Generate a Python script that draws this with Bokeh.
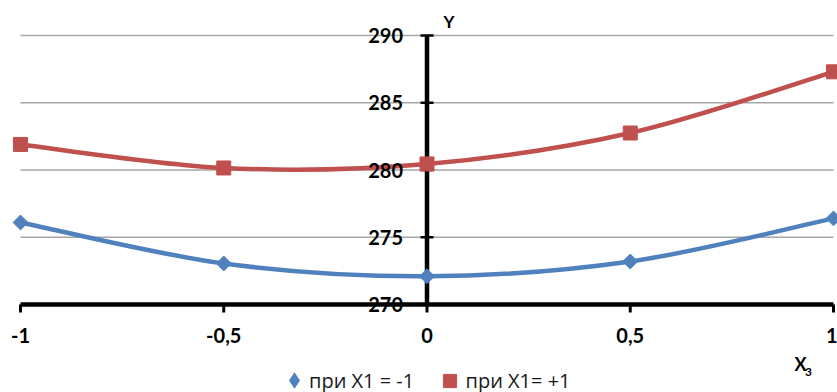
import numpy as np
from bokeh.plotting import figure
from bokeh.models import Range1d, ColumnDataSource, Legend, LegendItem
from bokeh.core.properties import value
from bokeh.embed import file_html
from bokeh.resources import INLINE

# ---- data ----
x3 = [-1, -0.5, 0, 0.5, 1]
y_x1_minus = [276.1, 273.05, 272.1, 273.2, 276.4]
y_x1_plus = [281.9, 280.15, 280.45, 282.75, 287.3]
series_names = ["при X1 = -1", "при X1= +1"]
x_ticks = [-1, -0.5, 0, 0.5, 1]
x_tick_labels = ["-1", "-0,5", "0", "0,5", "1"]
y_ticks = [270, 275, 280, 285, 290]
y_tick_labels = ["270", "275", "280", "285", "290"]

# ---- layout (pixels) ----
W, H = 837, 392
XL_PX, XR_PX = 20, 833      # where x = -1 and x = 1 sit
YT_PX, YB_PX = 35, 304      # where y = 290 and y = 270 sit
xmin, xmax = x_ticks[0], x_ticks[-1]
ymin, ymax = y_ticks[0], y_ticks[-1]
sx = (XR_PX - XL_PX) / (xmax - xmin)
sy = (YB_PX - YT_PX) / (ymax - ymin)
x_range = Range1d(xmin - XL_PX / sx, xmax + (W - XR_PX) / sx)
y_range = Range1d(ymin - (H - YB_PX) / sy, ymax + YT_PX / sy)

BLUE = "#4F81BD"
RED = "#C0504D"
FONT = "Lato"

p = figure(width=W, height=H, output_backend="svg", toolbar_location=None,
           x_range=x_range, y_range=y_range, x_axis_location=None, y_axis_location=None,
           min_border=0)
p.outline_line_color = None
p.grid.visible = False

# horizontal gridlines
n = len(y_ticks)
p.segment(x0=[xmin] * n, y0=y_ticks, x1=[xmax] * n, y1=y_ticks,
          line_color="#a6a6a6", line_width=1.3)


def smooth_segments(xs, ys):
    xs = np.asarray(xs, float)
    ys = np.asarray(ys, float)
    m = len(xs)
    px = np.concatenate([[xs[0]], xs, [xs[-1]]])
    py = np.concatenate([[ys[0]], ys, [ys[-1]]])
    d = dict(x0=[], y0=[], x1=[], y1=[], cx0=[], cy0=[], cx1=[], cy1=[])
    for i in range(m - 1):
        a, b, c, e = i, i + 1, i + 2, i + 3
        d["x0"].append(px[b]); d["y0"].append(py[b])
        d["x1"].append(px[c]); d["y1"].append(py[c])
        d["cx0"].append(px[b] + (px[c] - px[a]) / 6); d["cy0"].append(py[b] + (py[c] - py[a]) / 6)
        d["cx1"].append(px[c] - (px[e] - px[b]) / 6); d["cy1"].append(py[c] - (py[e] - py[b]) / 6)
    return ColumnDataSource(d)


# x axis (at y = 270) and its ticks
p.segment(x0=[xmin], y0=[ymin], x1=[xmax], y1=[ymin], line_color="black", line_width=4.5)
tick_len = 8 / sy
m = len(x_ticks)
p.segment(x0=x_ticks, y0=[ymin] * m, x1=x_ticks, y1=[ymin - tick_len] * m,
          line_color="black", line_width=3)

for ys, col in [(y_x1_minus, BLUE), (y_x1_plus, RED)]:
    p.bezier(x0="x0", y0="y0", x1="x1", y1="y1", cx0="cx0", cy0="cy0", cx1="cx1", cy1="cy1",
             source=smooth_segments(x3, ys), line_color=col, line_width=4.5)

# y axis at x = 0
p.segment(x0=[0], y0=[ymin], x1=[0], y1=[ymax], line_color="black", line_width=4.5)
p.scatter([0] * n, y_ticks, marker="dash", size=13, line_color="black", line_width=2.5)

p.scatter(x3, y_x1_minus, marker="square", angle=np.pi / 4, size=10.5,
          fill_color=BLUE, line_color=BLUE)
r_red = p.scatter(x3, y_x1_plus, marker="square", size=14, fill_color=RED, line_color=RED)
# legend swatch for the blue series (legend glyphs are never rotated, so use a diamond)
r_blue_key = p.scatter(x=[np.nan], y=[np.nan], marker="diamond", fill_color=BLUE,
                       line_color=BLUE, line_width=2.5, line_join="miter")

# tick labels
p.text(x=[0] * n, y=y_ticks, text=y_tick_labels, x_offset=-24, text_align="right",
       text_baseline="middle", text_font=value(FONT), text_font_style="bold",
       text_font_size="20px", text_color="black")
x_lab_src = ColumnDataSource(dict(x=x_ticks, y=[ymin] * m, t=x_tick_labels,
                                  align=["center"] * (m - 1) + ["right"],
                                  dx=[0] * (m - 1) + [4]))
p.text(x="x", y="y", text="t", source=x_lab_src, x_offset="dx", y_offset=31, text_align="align",
       text_baseline="middle", text_font=value(FONT), text_font_style="bold",
       text_font_size="20px", text_color="black")

# axis titles
p.text(x=[0], y=[ymax], text=["Y"], x_offset=22, y_offset=-14, text_align="center",
       text_baseline="middle", text_font=value(FONT), text_font_style="bold",
       text_font_size="17px", text_color="black")
p.text(x=[xmax], y=[ymin], text=["X"], x_offset=-33, y_offset=59, text_align="center",
       text_baseline="middle", text_font=value(FONT), text_font_style="bold",
       text_font_size="18px", text_color="black")
p.text(x=[xmax], y=[ymin], text=["3"], x_offset=-25, y_offset=67, text_align="center",
       text_baseline="middle", text_font=value(FONT), text_font_style="bold",
       text_font_size="12px", text_color="black")

# legends (one per series so each swatch gets its own size)
common = dict(orientation="horizontal", border_line_color=None, background_fill_alpha=0,
              padding=0, margin=0, label_text_font="Open Sans", label_text_font_size="20px",
              label_text_color="#1a1a1a", label_standoff=0)
LEG_CY = 12  # legend centre, pixels above the bottom edge
g1 = 30
leg1 = Legend(items=[LegendItem(label=series_names[0], renderers=[r_blue_key])],
              location=(294 - g1 / 2, LEG_CY - g1 / 2), glyph_width=g1, glyph_height=g1, **common)
g2 = 33
leg2 = Legend(items=[LegendItem(label=series_names[1], renderers=[r_red])],
              location=(449 - g2 / 2, LEG_CY - g2 / 2), glyph_width=g2, glyph_height=g2, **common)
p.add_layout(leg1)
p.add_layout(leg2)

open("out.html", "w").write(file_html(p, INLINE))
